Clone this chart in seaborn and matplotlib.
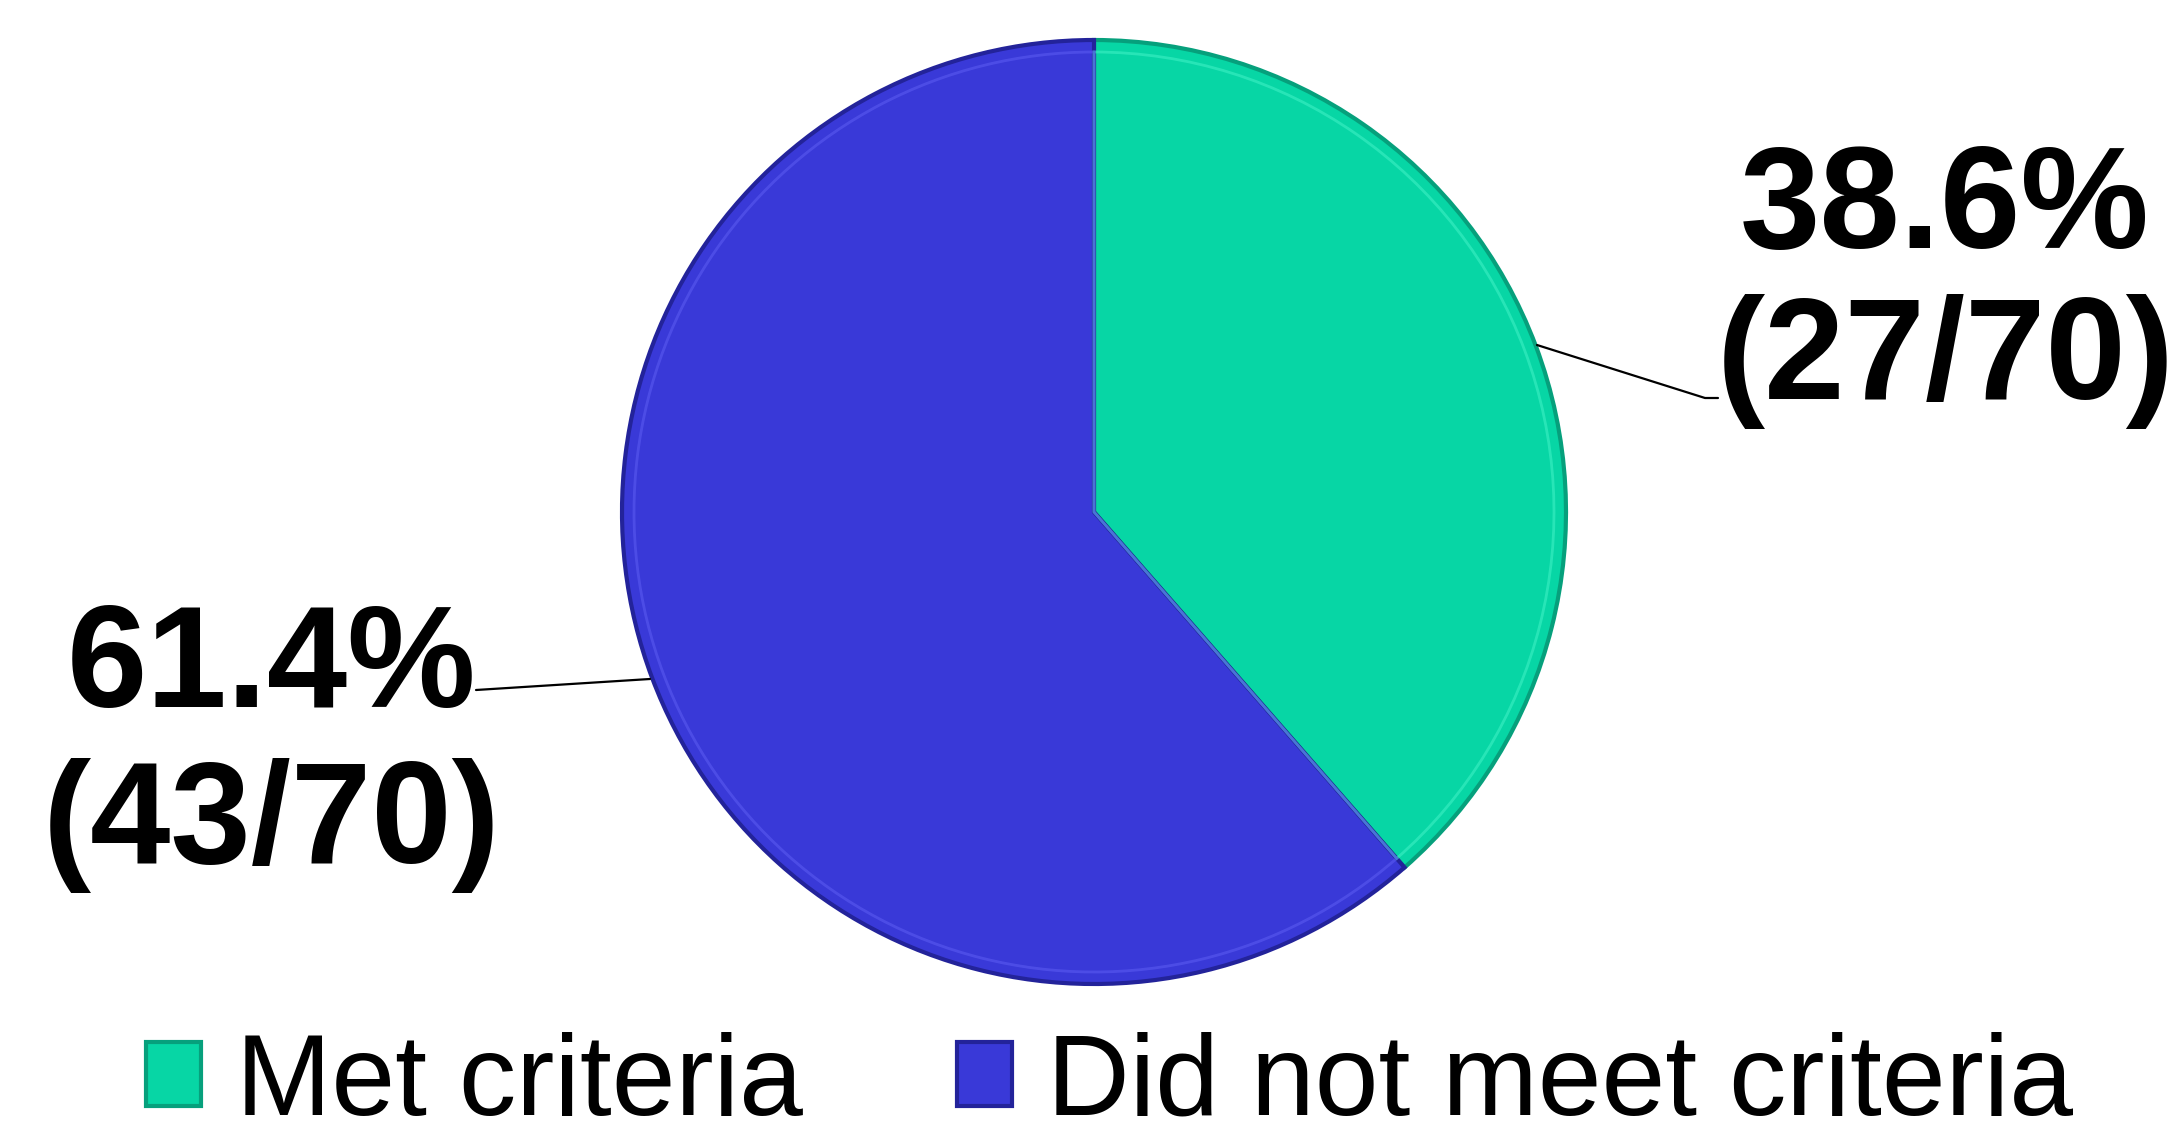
import matplotlib
matplotlib.use("Agg")
import matplotlib.pyplot as plt
import seaborn as sns

categories = ["Met criteria", "Did not meet criteria"]
counts = [27, 43]
total = 70
pct_labels = ["38.6%", "61.4%"]
frac_labels = ["(27/70)", "(43/70)"]
face_colors = ["#07D6A5", "#3939D8"]
edge_colors = ["#06a07c", "#23239a"]
rim_colors = ["#3df0c4", "#5a5af0"]

sns.set_theme(style="white")
plt.rcParams['font.family'] = ['Liberation Sans', 'DejaVu Sans']
plt.rcParams['text.color'] = 'black'

W, H = 2182, 1138
fig = plt.figure(figsize=(W / 100, H / 100), dpi=100)
ax = fig.add_axes([0, 0, 1, 1])

cx, cy, R = 1094, H - 512, 472
palette = sns.color_palette(face_colors)

wedges, _ = ax.pie(counts, colors=palette, startangle=90, counterclock=False,
                   center=(cx, cy), radius=R,
                   wedgeprops=dict(linewidth=3))
for w, ec in zip(wedges, edge_colors):
    w.set_edgecolor(ec)

# subtle inner rim (bevel imitation)
rim, _ = ax.pie(counts, colors=["none", "none"], startangle=90, counterclock=False,
                center=(cx, cy), radius=R - 12,
                wedgeprops=dict(linewidth=2, fill=False))
for w, rc in zip(rim, rim_colors):
    w.set_edgecolor(rc)
    w.set_alpha(0.6)

ax.set_xlim(0, W)
ax.set_ylim(0, H)
ax.set_aspect('equal')
ax.axis('off')

# leader lines
ax.plot([1537, 1705, 1718], [H - 345, H - 398, H - 398], color="black", lw=1.6)
ax.plot([650, 476], [H - 679, H - 690], color="black", lw=1.6)

# labels
lab_kw = dict(fontsize=104, fontweight="bold", ha="center", va="baseline", color="black")
ax.text(1945, H - 248, pct_labels[0], **lab_kw)
ax.text(1946, H - 399, frac_labels[0], **lab_kw)
ax.text(272, H - 707, pct_labels[1], **lab_kw)
ax.text(272, H - 863, frac_labels[1], **lab_kw)

leg = ax.legend(wedges, categories, loc="lower center", bbox_to_anchor=(0.5085, -0.041),
                ncol=2, frameon=False, fontsize=82.5, handlelength=0.48, handleheight=0.48,
                handletextpad=0.3, columnspacing=1.35, borderaxespad=0)
for t in leg.get_texts():
    t.set_color("black")

fig.savefig("out.png", dpi=100, facecolor="white")
